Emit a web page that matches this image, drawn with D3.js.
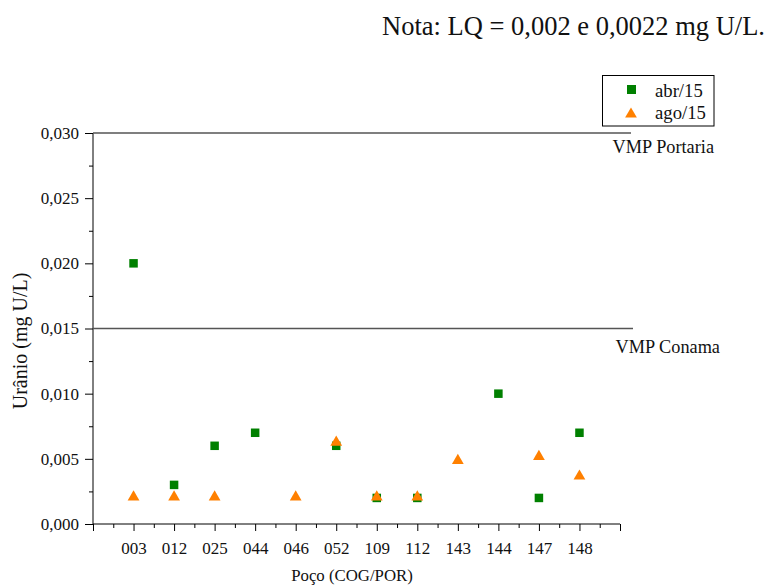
<!DOCTYPE html>
<html>
<head>
<meta charset="utf-8">
<script src="https://cdn.jsdelivr.net/npm/d3@7"></script>
<style>
  html, body { margin: 0; padding: 0; background: #fff; }
  svg text { font-family: "Liberation Serif", "Times New Roman", serif; fill: #111; }
</style>
</head>
<body>
<svg id="chart" width="767" height="587"></svg>
<script>
// Wells (categories) and uranium concentrations (mg U/L); null = not sampled
const wells = ["003", "012", "025", "044", "046", "052", "109", "112", "143", "144", "147", "148"];
const abr15 = [0.020, 0.003, 0.006, 0.007, null, 0.006, 0.002, 0.002, null, 0.010, 0.002, 0.007];
const ago15 = [0.0022, 0.0022, 0.0022, null, 0.0022, 0.0064, 0.0022, 0.0022, 0.005, null, 0.0053, 0.0038];
const yTicks = [0, 0.005, 0.010, 0.015, 0.020, 0.025, 0.030];
const limitNames = ["VMP Portaria", "VMP Conama"];
const limitValues = [0.030, 0.015];

const svg = d3.select("#chart");
const plotL = 93, plotR = 620, plotT = 133, plotB = 524;

// Categories sit at 1..12 on a 0..13 linear axis
const x = d3.scaleLinear().domain([0, wells.length + 1]).range([plotL, plotR]);
const y = d3.scaleLinear().domain([0, 0.030]).range([plotB, plotT]);
const fmt = v => d3.format(".3f")(v).replace(".", ",");

function styleAxis(g, size) {
  g.attr("font-family", null).attr("font-size", null);
  g.selectAll("text").style("font-size", size + "px").attr("fill", "#111");
  g.selectAll("line").attr("stroke", "#000");
}

// Y axis: minor ticks, then labelled major ticks
svg.append("g")
  .attr("transform", `translate(${plotL},0)`)
  .call(d3.axisLeft(y).tickValues(d3.range(0.0025, 0.030, 0.005)).tickSize(4).tickFormat(""))
  .call(g => g.select(".domain").remove())
  .call(g => styleAxis(g, 17));
svg.append("g")
  .attr("transform", `translate(${plotL},0)`)
  .call(d3.axisLeft(y).tickValues(yTicks).tickSize(8).tickPadding(6).tickFormat(fmt))
  .call(g => g.select(".domain").attr("d", `M0,${plotB}V${plotT}`).attr("stroke", "#000"))
  .call(g => styleAxis(g, 17));

// X axis: minor ticks at half steps, major ticks at each well
svg.append("g")
  .attr("transform", `translate(0,${plotB})`)
  .call(d3.axisBottom(x).tickValues(d3.range(0.5, wells.length + 1, 1)).tickSize(4).tickFormat(""))
  .call(g => g.select(".domain").remove())
  .call(g => styleAxis(g, 17));
svg.append("g")
  .attr("transform", `translate(0,${plotB})`)
  .call(d3.axisBottom(x).tickValues(d3.range(0, wells.length + 2, 1)).tickSize(7).tickPadding(11)
    .tickFormat(d => (d >= 1 && d <= wells.length) ? wells[d - 1] : ""))
  .call(g => g.select(".domain").attr("d", `M${plotL},0H${plotR}`).attr("stroke", "#000"))
  .call(g => styleAxis(g, 17));

// Reference limit lines with their labels
const limitLineEnd = [631, 633];
const limitLabelX = [714, 720];
const limitLabelDy = [20, 24];
limitValues.forEach((v, i) => {
  svg.append("line")
    .attr("x1", plotL).attr("x2", limitLineEnd[i])
    .attr("y1", y(v)).attr("y2", y(v))
    .attr("stroke", "#555").attr("stroke-width", 1.3);
  svg.append("text")
    .attr("x", limitLabelX[i]).attr("y", y(v) + limitLabelDy[i])
    .attr("text-anchor", "end")
    .style("font-size", "18.3px")
    .text(limitNames[i]);
});

// Series points
const sq = 8.5;
svg.append("g").selectAll("rect")
  .data(wells.map((w, i) => ({ i, v: abr15[i] })).filter(d => d.v !== null))
  .join("rect")
  .attr("x", d => x(d.i + 1) - sq / 2)
  .attr("y", d => y(d.v) - sq / 2)
  .attr("width", sq).attr("height", sq)
  .attr("fill", "#008000");

// Triangle centred on its bounding box
const triSize = 60;
const tri = d3.symbol().type(d3.symbolTriangle).size(triSize);
const triShift = Math.sqrt(triSize / (Math.sqrt(3) * 3)) / 2;
svg.append("g").selectAll("path")
  .data(wells.map((w, i) => ({ i, v: ago15[i] })).filter(d => d.v !== null))
  .join("path")
  .attr("d", tri)
  .attr("transform", d => `translate(${x(d.i + 1)},${y(d.v) + triShift})`)
  .attr("fill", "#ff8000");

// Legend
const lg = svg.append("g");
lg.append("rect").attr("x", 602.5).attr("y", 75.5).attr("width", 111.5).attr("height", 50.5)
  .attr("fill", "#fff").attr("stroke", "#000").attr("stroke-width", 1);
lg.append("rect").attr("x", 627).attr("y", 85).attr("width", 9).attr("height", 9).attr("fill", "#008000");
lg.append("path").attr("d", tri).attr("transform", `translate(631,${112.5 + triShift})`).attr("fill", "#ff8000");
lg.append("text").attr("x", 655).attr("y", 97).style("font-size", "18.7px").text("abr/15");
lg.append("text").attr("x", 655).attr("y", 119).style("font-size", "18.7px").text("ago/15");

// Axis titles
svg.append("text")
  .attr("transform", "translate(27,341) rotate(-90)")
  .attr("text-anchor", "middle").style("font-size", "20px")
  .text("Urânio (mg U/L)");
svg.append("text")
  .attr("x", 352).attr("y", 581)
  .attr("text-anchor", "middle").style("font-size", "16.8px")
  .text("Poço (COG/POR)");

// Note
svg.append("text")
  .attr("x", 765).attr("y", 35)
  .attr("text-anchor", "end").style("font-size", "26.5px")
  .text("Nota: LQ = 0,002 e 0,0022 mg U/L.");
</script>
</body>
</html>
